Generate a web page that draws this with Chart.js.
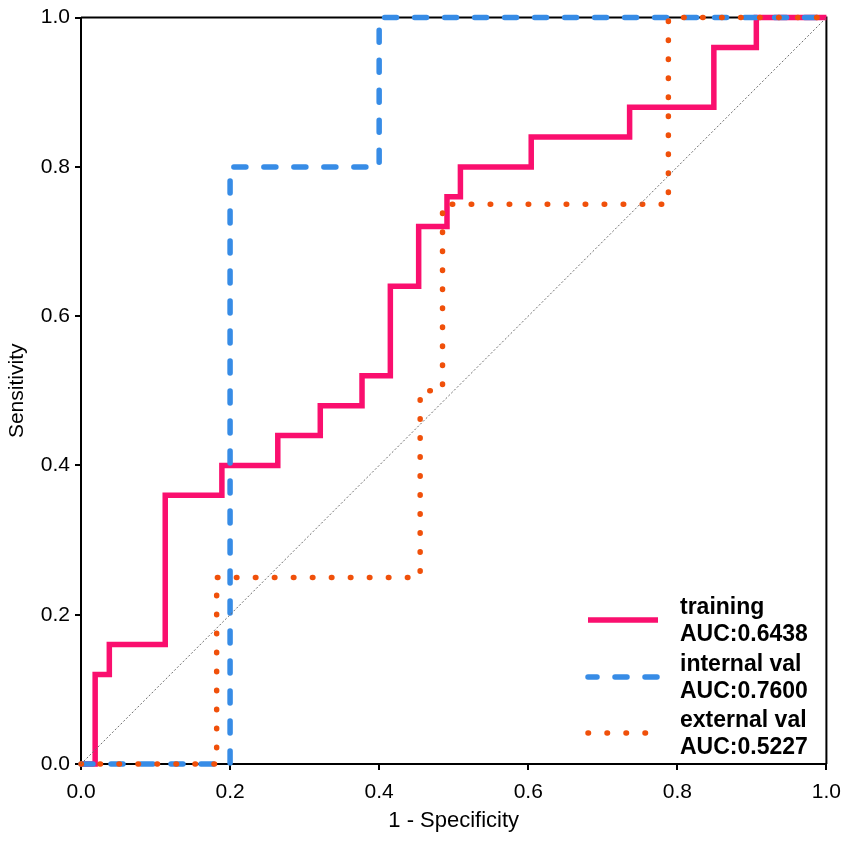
<!DOCTYPE html>
<html>
<head>
<meta charset="utf-8">
<script src="https://cdn.jsdelivr.net/npm/chart.js@4.4.1/dist/chart.umd.min.js"></script>
<style>
  html, body { margin: 0; padding: 0; background: #fff; }
  #wrap { width: 851px; height: 842px; position: relative; }
</style>
</head>
<body>
<div id="wrap"><canvas id="c" width="851" height="842"></canvas></div>
<script>
// ---- data ----
const trainX = [0, 0.019, 0.019, 0.038, 0.038, 0.113, 0.113, 0.189, 0.189, 0.264, 0.264, 0.321, 0.321, 0.377, 0.377, 0.415, 0.415, 0.453, 0.453, 0.491, 0.491, 0.509, 0.509, 0.604, 0.604, 0.736, 0.736, 0.849, 0.849, 0.906, 0.906, 1];
const trainY = [0, 0, 0.12, 0.12, 0.16, 0.16, 0.36, 0.36, 0.40, 0.40, 0.44, 0.44, 0.48, 0.48, 0.52, 0.52, 0.64, 0.64, 0.72, 0.72, 0.76, 0.76, 0.80, 0.80, 0.84, 0.84, 0.88, 0.88, 0.96, 0.96, 1, 1];
const internalX = [0, 0.2, 0.2, 0.4, 0.4, 1];
const internalY = [0, 0, 0.8, 0.8, 1, 1];
const externalX = [0, 0.182, 0.182, 0.455, 0.455, 0.485, 0.485, 0.788, 0.788, 1];
const externalY = [0, 0, 0.25, 0.25, 0.5, 0.5, 0.75, 0.75, 1, 1];
const diagX = [0, 1];
const diagY = [0, 1];
const seriesNames = ["training", "internal val", "external val"];
const aucLabels = ["AUC:0.6438", "AUC:0.7600", "AUC:0.5227"];
const tickLabels = ["0.0", "0.2", "0.4", "0.6", "0.8", "1.0"];

const pts = (xs, ys) => xs.map((x, i) => ({ x: x, y: ys[i] }));

const PINK = 'rgb(250,15,110)';
const BLUE = 'rgb(55,140,230)';
const ORANGE = 'rgb(240,80,10)';
const FONT = "'Liberation Sans', Arial, Helvetica, sans-serif";

const frame = {
  id: 'frame',
  beforeDatasetsDraw(chart) {
    const a = chart.chartArea, ctx = chart.ctx;
    ctx.save();
    ctx.strokeStyle = '#000';
    ctx.lineWidth = 2;
    ctx.beginPath();
    ctx.moveTo(a.left, a.top);
    ctx.lineTo(a.right, a.top);
    ctx.lineTo(a.right, a.bottom);
    ctx.stroke();
    ctx.restore();
  }
};

const legendPlugin = {
  id: 'customLegend',
  afterDatasetsDraw(chart) {
    const ctx = chart.ctx;
    const byLabel = {};
    chart.data.datasets.forEach(d => { byLabel[d.label] = d; });
    const rows = [620, 677, 733];
    ctx.save();
    seriesNames.forEach((name, k) => {
      const d = byLabel[name];
      const y = rows[k];
      ctx.beginPath();
      ctx.strokeStyle = d.borderColor;
      ctx.lineWidth = d.borderWidth;
      ctx.lineCap = d.borderCapStyle || 'butt';
      ctx.setLineDash(d.borderDash || []);
      ctx.lineDashOffset = d.legendDashOffset || 0;
      ctx.moveTo(588, y);
      ctx.lineTo(658, y);
      ctx.stroke();
      ctx.setLineDash([]);
      ctx.fillStyle = '#000';
      ctx.font = "bold 23px " + FONT;
      ctx.textBaseline = 'middle';
      ctx.textAlign = 'left';
      ctx.fillText(name, 680, y - 12);
      ctx.fillText(aucLabels[k], 680, y + 15);
    });
    ctx.restore();
  }
};

new Chart(document.getElementById('c'), {
  type: 'scatter',
  data: {
    datasets: [
      { label: 'diag', data: pts(diagX, diagY), showLine: true, pointRadius: 0,
        borderColor: 'rgb(110,110,110)', borderWidth: 1, borderDash: [2, 2], order: 0, clip: false },
      { label: seriesNames[2], data: pts(externalX, externalY), showLine: true, pointRadius: 0,
        borderColor: ORANGE, borderWidth: 5.5, borderDash: [0.5, 18.5], borderCapStyle: 'round',
        order: 1, clip: false, legendDashOffset: 0 },
      { label: seriesNames[1], data: pts(internalX, internalY), showLine: true, pointRadius: 0,
        borderColor: BLUE, borderWidth: 5.5, borderDash: [12, 18], borderCapStyle: 'round',
        order: 2, clip: false, legendDashOffset: 3 },
      { label: seriesNames[0], data: pts(trainX, trainY), showLine: true, pointRadius: 0,
        borderColor: PINK, borderWidth: 5.5, borderJoinStyle: 'miter', order: 3, clip: false }
    ]
  },
  options: {
    responsive: false,
    animation: false,
    devicePixelRatio: 1,
    layout: { padding: { top: 15, right: 23, left: 0, bottom: 0 } },
    plugins: { legend: { display: false }, tooltip: { enabled: false } },
    scales: {
      x: {
        type: 'linear', min: 0, max: 1,
        afterFit(s) { s.height = 78; },
        border: { color: '#000', width: 2 },
        grid: { drawOnChartArea: false, drawTicks: true, tickLength: 6, color: '#000', lineWidth: 2 },
        ticks: { stepSize: 0.2, color: '#000', padding: 10,
          font: { family: FONT, size: 21 },
          callback: (v) => tickLabels[Math.round(v * 5)] },
        title: { display: true, text: '1 - Specificity', color: '#000',
          font: { family: FONT, size: 22 }, padding: { top: 4, bottom: 8 } }
      },
      y: {
        type: 'linear', min: 0, max: 1,
        afterFit(s) { s.width = 81; },
        border: { color: '#000', width: 2 },
        grid: { drawOnChartArea: false, drawTicks: true, tickLength: 6, color: '#000', lineWidth: 2 },
        ticks: { stepSize: 0.2, color: '#000', padding: 5,
          font: { family: FONT, size: 21 },
          callback: (v) => tickLabels[Math.round(v * 5)] },
        title: { display: true, text: 'Sensitivity', color: '#000',
          font: { family: FONT, size: 21 }, padding: { top: 5, bottom: 3 } }
      }
    }
  },
  plugins: [frame, legendPlugin]
});
</script>
</body>
</html>
